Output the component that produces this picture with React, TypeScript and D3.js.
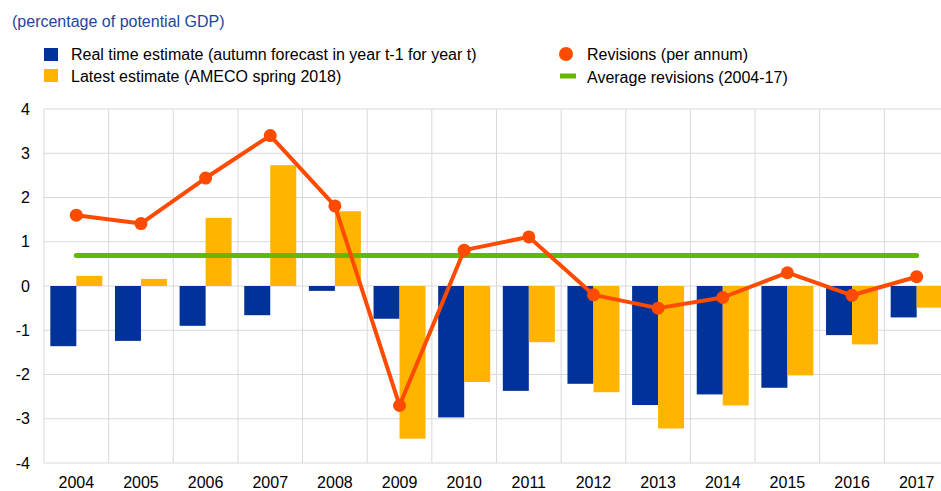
import React from "react";
import * as d3 from "d3";

// values
const years = ["2004", "2005", "2006", "2007", "2008", "2009", "2010", "2011", "2012", "2013", "2014", "2015", "2016", "2017"];
const realTime = [-1.36, -1.24, -0.9, -0.66, -0.11, -0.74, -2.97, -2.37, -2.21, -2.69, -2.45, -2.3, -1.11, -0.71];
const latest = [0.23, 0.16, 1.54, 2.73, 1.69, -3.45, -2.17, -1.27, -2.4, -3.22, -2.7, -2.02, -1.32, -0.49];
const revisions = [1.6, 1.41, 2.44, 3.4, 1.81, -2.7, 0.81, 1.11, -0.2, -0.5, -0.26, 0.3, -0.21, 0.21];
const avgRevision = 0.69;
const yTicks = [-4, -3, -2, -1, 0, 1, 2, 3, 4];

const BLUE = "#003299";
const YELLOW = "#FFB400";
const ORANGE = "#FF4B00";
const GREEN = "#65B800";
const GRID = "#d9d9d9";
const FONT = "'Liberation Sans', Arial, sans-serif";

export default function App() {
  const width = 941, height = 491;
  const left = 44, right = 949, top = 109, bottom = 463;

  const x = d3.scaleBand<string>().domain(years).range([left, right]);
  const sub = d3.scaleBand<string>().domain(["rt", "latest"]).range([0, x.bandwidth()]).paddingOuter(0.243);
  const y = d3.scaleLinear().domain([-4, 4]).range([bottom, top]);
  const cx = (yr: string) => x(yr)! + x.bandwidth() / 2;

  const line = d3.line<number>().x((_, i) => cx(years[i])).y(d => y(d));

  return (
    <svg width={width} height={height} style={{ position: "absolute", left: 0, top: 0, display: "block" }} fontFamily={FONT}>
      <text x={12} y={27} fontSize={16} fill="#1d46a0">(percentage of potential GDP)</text>

      {/* legend */}
      <rect x={44} y={48} width={14} height={13} fill={BLUE} />
      <text x={71} y={59.5} fontSize={16} fill="#000">Real time estimate (autumn forecast in year t-1 for year t)</text>
      <rect x={44} y={69} width={14} height={13} fill={YELLOW} />
      <text x={71} y={82} fontSize={16} fill="#000">Latest estimate (AMECO spring 2018)</text>
      <circle cx={566} cy={54} r={7} fill={ORANGE} />
      <text x={587} y={60} fontSize={16} fill="#000">Revisions (per annum)</text>
      <line x1={560} x2={576} y1={76} y2={76} stroke={GREEN} strokeWidth={5} />
      <text x={587} y={82.5} fontSize={16} fill="#000">Average revisions (2004-17)</text>

      {/* grid */}
      {yTicks.map(t => (
        <line key={"h" + t} x1={left} x2={right} y1={y(t)} y2={y(t)} stroke={GRID} strokeWidth={1} />
      ))}
      {years.map(yr => (
        <line key={"v" + yr} x1={x(yr)} x2={x(yr)} y1={top} y2={bottom} stroke={GRID} strokeWidth={1} />
      ))}

      {/* bars */}
      {years.map((yr, i) => (
        <g key={"b" + yr}>
          <rect x={x(yr)! + sub("rt")!} width={sub.bandwidth()} y={y(Math.max(0, realTime[i]))}
            height={Math.abs(y(realTime[i]) - y(0))} fill={BLUE} />
          <rect x={x(yr)! + sub("latest")!} width={sub.bandwidth()} y={y(Math.max(0, latest[i]))}
            height={Math.abs(y(latest[i]) - y(0))} fill={YELLOW} />
        </g>
      ))}

      {/* average */}
      <line x1={cx(years[0])} x2={cx(years[years.length - 1])} y1={y(avgRevision)} y2={y(avgRevision)}
        stroke={GREEN} strokeWidth={5} strokeLinecap="round" />

      {/* revisions */}
      <path d={line(revisions)!} fill="none" stroke={ORANGE} strokeWidth={4} strokeLinejoin="round" />
      {revisions.map((v, i) => (
        <circle key={"c" + i} cx={cx(years[i])} cy={y(v)} r={6.5} fill={ORANGE} />
      ))}

      {/* axis labels */}
      {yTicks.map(t => (
        <text key={"yt" + t} x={30} y={y(t)} dy="0.35em" textAnchor="end" fontSize={16} fill="#000">{t}</text>
      ))}
      {years.map(yr => (
        <text key={"xt" + yr} x={cx(yr)} y={488} textAnchor="middle" fontSize={16} fill="#000">{yr}</text>
      ))}
    </svg>
  );
}
